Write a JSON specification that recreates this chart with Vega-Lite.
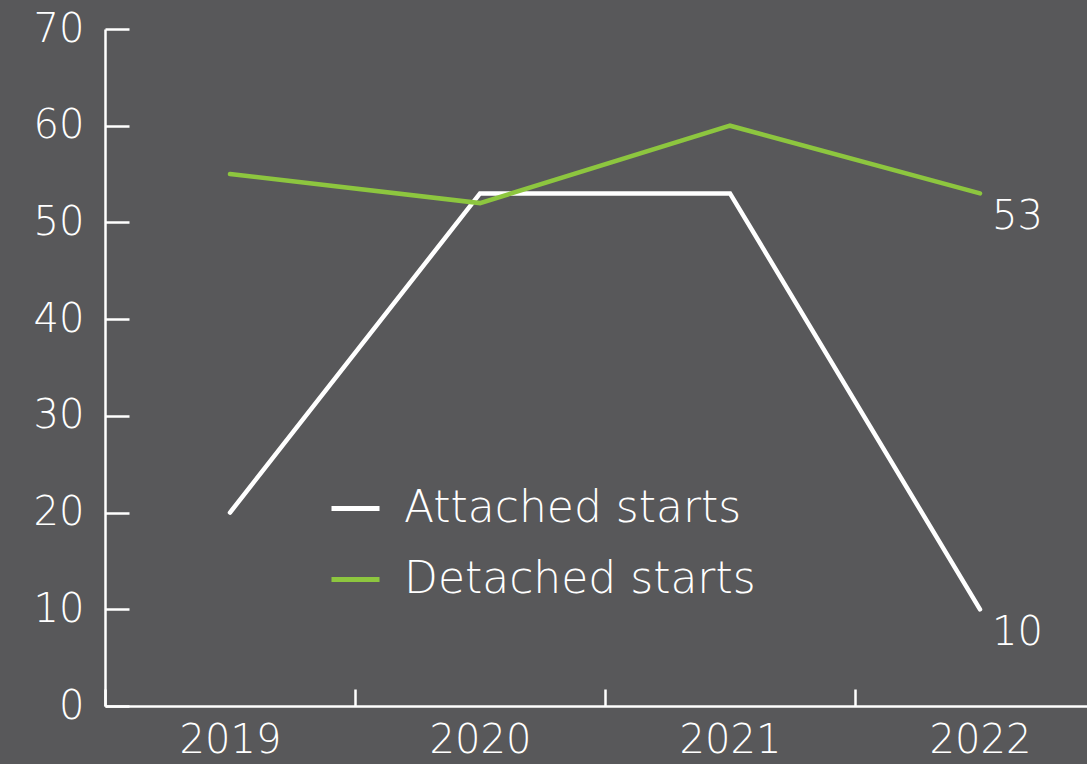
{
  "$schema": "https://vega.github.io/schema/vega-lite/v6.json",
  "autosize": {"type": "none"},
  "padding": {"left": 105, "top": 29, "right": 0, "bottom": 58},
  "width": 982,
  "height": 677,
  "background": "#58585a",
  "config": {
    "view": {"stroke": null},
    "font": "DejaVu Sans",
    "axis": {"grid": false, "domainColor": "#ffffff", "tickColor": "#ffffff", "labelColor": "#ffffff", "domainWidth": 2.5, "tickWidth": 2.5, "labelFont": "DejaVu Sans", "labelFontWeight": 200, "labelFontSize": 40, "title": null}
  },
  "data": {"values": [
    {"year": "2019", "series": "Attached starts", "value": 20},
    {"year": "2020", "series": "Attached starts", "value": 53},
    {"year": "2021", "series": "Attached starts", "value": 53},
    {"year": "2022", "series": "Attached starts", "value": 10},
    {"year": "2019", "series": "Detached starts", "value": 55},
    {"year": "2020", "series": "Detached starts", "value": 52},
    {"year": "2021", "series": "Detached starts", "value": 60},
    {"year": "2022", "series": "Detached starts", "value": 53}
  ]},
  "encoding": {
    "x": {"field": "year", "type": "ordinal", "scale": {"type": "band", "range": [0, 1000], "paddingInner": 0, "paddingOuter": 0},
      "axis": {"labelAngle": 0, "tickBand": "extent", "tickSize": -17, "labelPadding": 31}},
    "y": {"field": "value", "type": "quantitative", "scale": {"domain": [0, 70], "nice": false},
      "axis": {"values": [0, 10, 20, 30, 40, 50, 60, 70], "tickSize": -24, "labelPadding": 45}},
    "color": {"field": "series", "type": "nominal",
      "scale": {"domain": ["Attached starts", "Detached starts"], "range": ["#ffffff", "#8dc63f"]},
      "legend": {"orient": "none", "legendX": 224, "legendY": 453, "title": null, "symbolType": "stroke", "symbolSize": 2304, "symbolStrokeWidth": 5, "labelFontSize": 44, "labelFontWeight": 200, "labelColor": "#ffffff", "labelFont": "DejaVu Sans", "labelOffset": 22, "rowPadding": 22, "labelLimit": 600}}
  },
  "layer": [
    {"mark": {"type": "line", "strokeWidth": 4.5, "strokeCap": "round"}},
    {"transform": [{"filter": "datum.year == '2022'"}],
     "mark": {"type": "text", "align": "left", "baseline": "middle", "dx": 12, "dy": 24, "fontSize": 40, "fontWeight": 200, "font": "DejaVu Sans", "fill": "#ffffff"},
     "encoding": {"text": {"field": "value", "type": "quantitative"}, "color": {"value": "#ffffff"}}}
  ]
}
